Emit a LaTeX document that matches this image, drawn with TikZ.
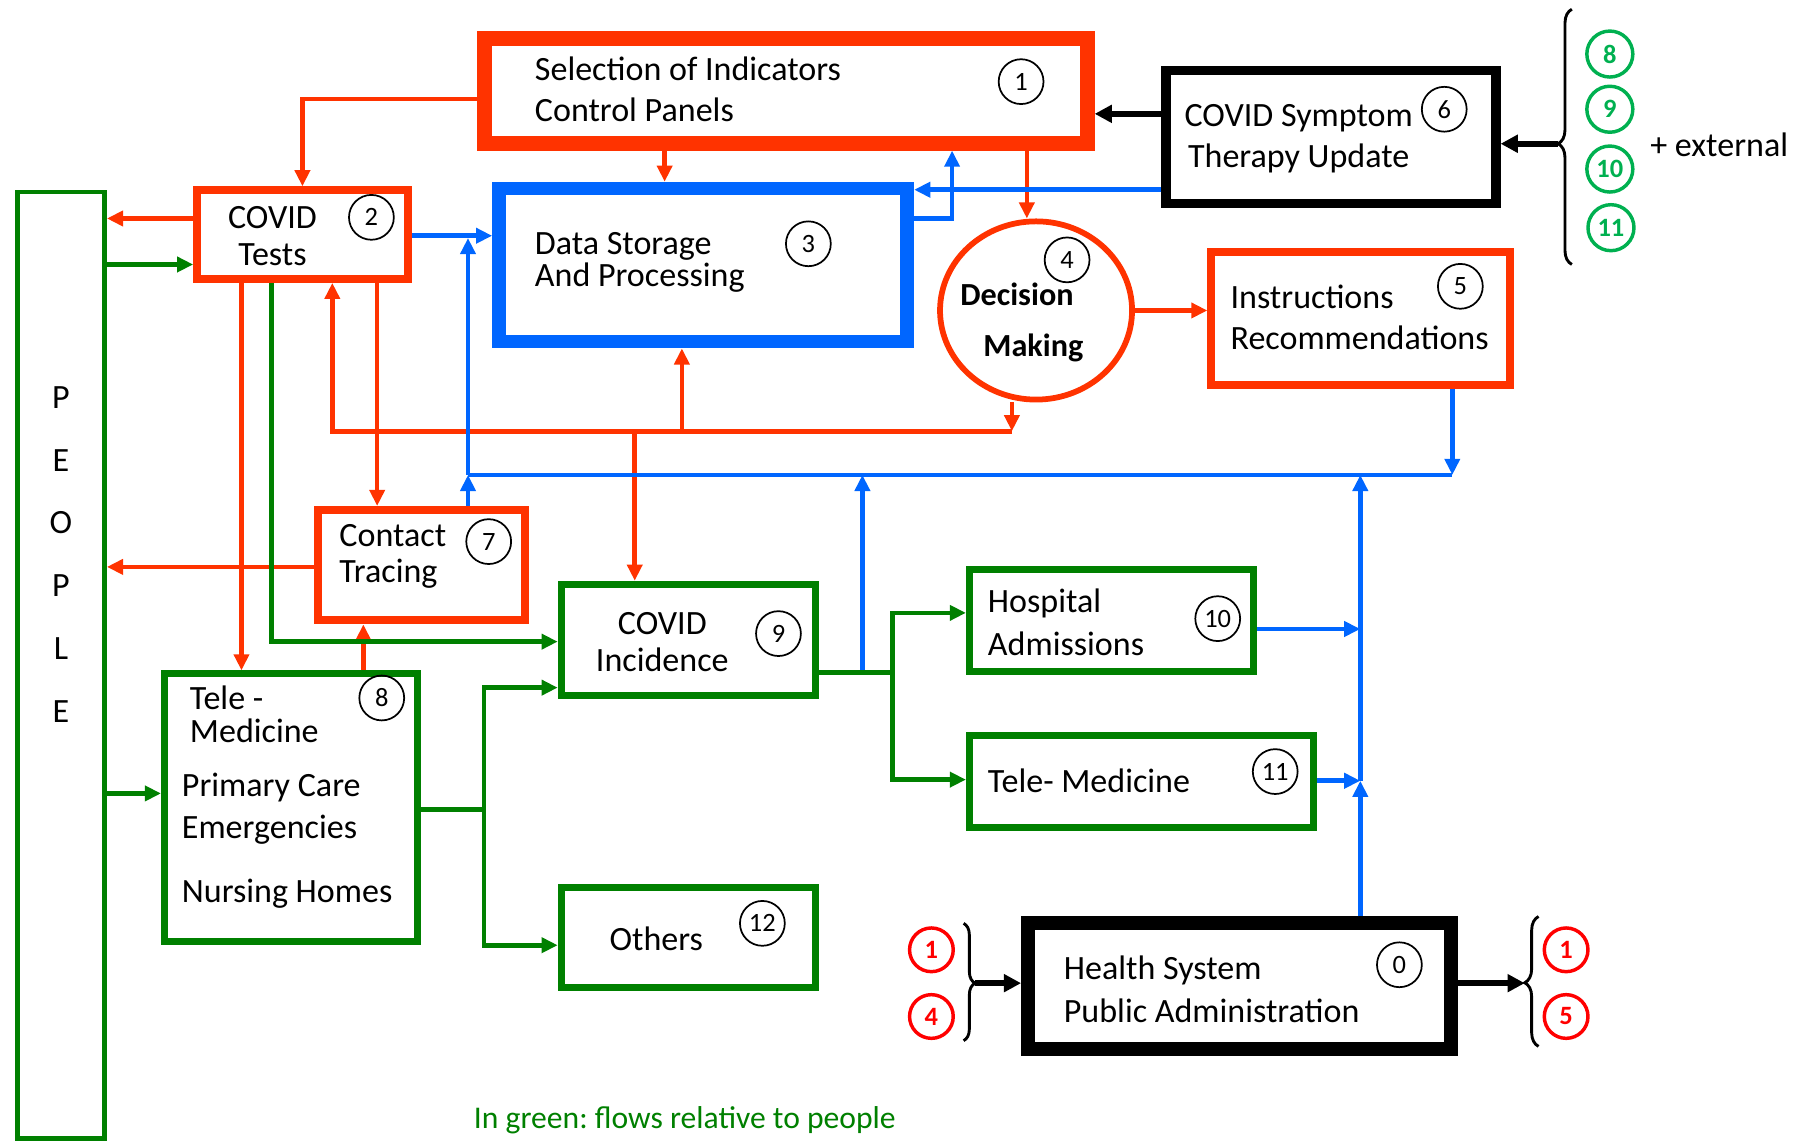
\documentclass[tikz,border=0pt]{standalone}
\usepackage{fontspec}
\setmainfont{Carlito}
\frenchspacing
\usetikzlibrary{arrows.meta,shapes.geometric,decorations.pathreplacing}
\definecolor{cred}{HTML}{FF3300}
\definecolor{cblue}{HTML}{0066FF}
\definecolor{cgreen}{HTML}{008000}
\definecolor{lgreen}{HTML}{00B050}
\definecolor{pred}{HTML}{FF0000}
\begin{document}
\begin{tikzpicture}[x=1pt,y=-1pt,
  lbl/.style={inner sep=0pt, anchor=base west, align=left, font=\fontsize{29.6}{#1}\selectfont},
  lbl/.default=36,
  clbl/.style={inner sep=0pt, anchor=base, align=center, font=\fontsize{29.6}{#1}\selectfont},
  clbl/.default=32,
  rbox/.style={draw=cred, rectangle, inner sep=0pt},
  bbox/.style={draw=cblue, rectangle, inner sep=0pt},
  gbox/.style={draw=cgreen, rectangle, inner sep=0pt},
  kbox/.style={draw=black, rectangle, inner sep=0pt},
  num/.style={circle, draw=black, line width=1.5pt, minimum size=39pt, inner sep=0pt, font=\fontsize{23}{23}\selectfont},
  gnum/.style={circle, draw=lgreen, line width=3pt, minimum size=40pt, inner sep=0pt, text=lgreen, font=\bfseries\fontsize{23}{23}\selectfont},
  pnum/.style={circle, draw=pred, line width=3pt, minimum size=38pt, inner sep=0pt, text=pred, font=\bfseries\fontsize{23}{23}\selectfont},
  tip/.style={-{Triangle[length=14pt,width=13pt]}},
  ra/.style={draw=cred, line width=4pt, tip},
  rl/.style={draw=cred, line width=4pt},
  ba/.style={draw=cblue, line width=4pt, tip},
  bl/.style={draw=cblue, line width=4pt},
  ga/.style={draw=cgreen, line width=4pt, tip},
  gl/.style={draw=cgreen, line width=4pt},
  ka/.style={draw=black, line width=5pt, -{Triangle[length=15pt,width=15pt]}},
  brc/.style={draw=black, line width=2.5pt, decorate},
]
\useasboundingbox (0,0) rectangle (1568,994);

% ---------- boxes ----------
\node[gbox, line width=4pt, minimum width=76pt, minimum height=823pt] (pp) at (53,578.5) {};
\node[rbox, line width=13pt, minimum width=524pt, minimum height=91pt] (b1) at (683.5,79) {};
\node[kbox, line width=8pt, minimum width=287pt, minimum height=116pt] (b6) at (1157.5,119) {};
\node[rbox, line width=7pt, minimum width=183pt, minimum height=77pt] (b2) at (263,204) {};
\node[bbox, line width=12pt, minimum width=355pt, minimum height=133pt] (b3) at (611.5,230.5) {};
\node[ellipse, draw=cred, line width=5pt, minimum width=167pt, minimum height=155pt, inner sep=0pt] (e4) at (901,270) {};
\node[rbox, line width=7pt, minimum width=260pt, minimum height=115pt] (b5) at (1183.5,277) {};
\node[rbox, line width=7pt, minimum width=180pt, minimum height=96pt] (b7) at (366.5,491.5) {};
\node[gbox, line width=6pt, minimum width=220pt, minimum height=233pt] (b8) at (253,702.5) {};
\node[gbox, line width=6pt, minimum width=221pt, minimum height=97pt] (b9) at (598.5,556.5) {};
\node[gbox, line width=6pt, minimum width=247pt, minimum height=89pt] (b10) at (966.5,539.5) {};
\node[gbox, line width=6pt, minimum width=299pt, minimum height=80pt] (b11) at (992.5,680) {};
\node[gbox, line width=6pt, minimum width=221pt, minimum height=87pt] (b12) at (598.5,815.5) {};
\node[kbox, line width=12pt, minimum width=368pt, minimum height=109pt] (b0) at (1078,857.5) {};

% ---------- texts (anchor = baseline of last line) ----------
\node[clbl=54.6] (tpp) at (53,628) {P\\E\\O\\P\\L\\E};
\node[lbl] (t1) at (465,106) {Selection of Indicators\\Control Panels};
\node[lbl] (t6) at (1030,146) {COVID Symptom\\\hspace*{3pt}Therapy Update};
\node[clbl] (t2) at (237,231) {COVID\\Tests};
\node[lbl=28] (t3) at (465,249) {Data Storage\\And Processing};
\node[lbl=44, font=\bfseries\fontsize{28}{44}\selectfont] (t4) at (835,310) {Decision\\\hspace*{20pt}Making};
\node[lbl] (t5) at (1070,304) {Instructions\\Recommendations};
\node[lbl=32] (t7) at (295,507) {Contact\\Tracing};
\node[lbl=29] (t8a) at (165,646) {Tele -\\Medicine};
\node[lbl=36] (t8b) at (158,785) {Primary Care\\Emergencies\\[20pt]Nursing Homes};
\node[clbl] (t9) at (576,584) {COVID\\Incidence};
\node[lbl=37] (t10) at (859,570) {Hospital\\Admissions};
\node[lbl] (t11) at (859,689) {Tele- Medicine};
\node[lbl] (t12) at (530,827) {Others};
\node[lbl=37] (t0) at (925,889) {Health System\\Public Administration};
\node[lbl] (tex) at (1435,136) {+ external};
\node[lbl, text=cgreen, font=\fontsize{27.5}{33}\selectfont] (tleg) at (412,981) {In green: flows relative to people};

% ---------- numbers ----------
\node[num] (n1) at (888,71) {1};
\node[num] (n2) at (323,189) {2};
\node[num] (n3) at (703,212) {3};
\node[num] (n4) at (928,226) {4};
\node[num] (n5) at (1270,249) {5};
\node[num] (n6) at (1256,95) {6};
\node[num] (n7) at (425,471) {7};
\node[num] (n8) at (332,607) {8};
\node[num] (n9) at (677,551) {9};
\node[num] (n10) at (1059,538) {10};
\node[num] (n11) at (1109,671) {11};
\node[num] (n12) at (663,803) {12};
\node[num] (n0) at (1217,839) {0};

\node[gnum] (g8) at (1400,47) {8};
\node[gnum] (g9) at (1400,95) {9};
\node[gnum] (g10) at (1400,147) {10};
\node[gnum] (g11) at (1401,198) {11};

\node[pnum] (p1a) at (810,826) {1};
\node[pnum] (p4a) at (810,884) {4};
\node[pnum] (p1b) at (1362,826) {1};
\node[pnum] (p5b) at (1362,884) {5};

% ---------- braces ----------
\draw[brc, decoration={brace, amplitude=12pt, aspect=0.473}] (1367,230) -- (1367,8);
\coordinate (brA) at (1355,125);
\draw[brc, decoration={brace, amplitude=10pt, aspect=0.51}] (838,803) -- (838,905);
\coordinate (brB) at (848,855);
\draw[brc, decoration={brace, amplitude=12pt, aspect=0.49}] (1338,910) -- (1338,797);
\coordinate (brC) at (1326,855);

% ---------- black connectors ----------
\draw[ka] (b6.west |- 0,99) -- (b1.east |- 0,99);
\draw[ka] (brA) -- (b6.east |- brA);
\draw[ka] (brB) -- (b0.west |- brB);
\draw[ka] (b0.east |- brC) -- (brC);

% ---------- red connectors ----------
\draw[ra] (b1.west |- 0,86) -| (b2.north);
\draw[ra] (b2.west |- 0,190) -- (pp.east |- 0,190);
\draw[ra] (210,0 |- b2.south) -- (210,0 |- b8.north);
\draw[ra] (328,0 |- b2.south) -- (328,0 |- b7.north);
\coordinate (rj) at (880,375);
\draw[ra] (e4.south -| rj) -- (rj);
\draw[ra] (rj) -- (289,375) -- (289,0 |- b2.south);
\draw[ra] (593,375) -- (593,0 |- b3.south);
\draw[ra] (552,375) -- (552,0 |- b9.north);
\draw[ra] (b7.west |- 0,493) -- (pp.east |- 0,493);
\draw[ra] (316,0 |- b8.north) -- (316,0 |- b7.south);
\draw[ra] (578,0 |- b1.south) -- (578,0 |- b3.north);
\draw[ra] (893,0 |- b1.south) -- (e4.north -| 893,0);
\draw[ra] (e4.east) -- (b5.west |- e4.east);

% ---------- blue connectors ----------
\draw[ba] (b6.west |- 0,165) -- (b3.east |- 0,165);
\draw[ba] (b3.east |- 0,190) -| (828,0 |- b1.south);
\draw[ba] (b2.east |- 0,205) -- (b3.west |- 0,205);
\coordinate (bj) at (407,413);
\draw[ba] (bj) -- (407,207);
\draw[ba] (407,0 |- b7.north) -- (bj);
\draw[bl] (bj) -- (1263,413);
\draw[ba] (1263,0 |- b5.south) -- (1263,413);
\draw[ba] (750,585) -- (750,413);
\coordinate (bk) at (1183,679);
\draw[ba] (1183,0 |- b0.north) -- (bk);
\draw[ba] (bk) -- (1183,413);
\draw[ba] (b10.east |- 0,547) -- (1183,547);
\draw[ba] (b11.east |- bk) -- (bk);

% ---------- green connectors ----------
\draw[ga] (pp.east |- 0,230) -- (b2.west |- 0,230);
\draw[ga] (pp.east |- 0,690) -- (b8.west |- 0,690);
\draw[ga] (236,0 |- b2.south) |- (b9.west |- 0,558);
\coordinate (gj) at (421,704);
\draw[gl] (b8.east |- gj) -- (gj);
\draw[ga] (gj) |- (b9.west |- 0,598);
\draw[ga] (gj) |- (b12.west |- 0,822);
\coordinate (gk) at (776,585);
\draw[gl] (b9.east |- gk) -- (gk);
\draw[ga] (gk) |- (b10.west |- 0,533);
\draw[ga] (gk) |- (b11.west |- 0,678);
\end{tikzpicture}
\end{document}
